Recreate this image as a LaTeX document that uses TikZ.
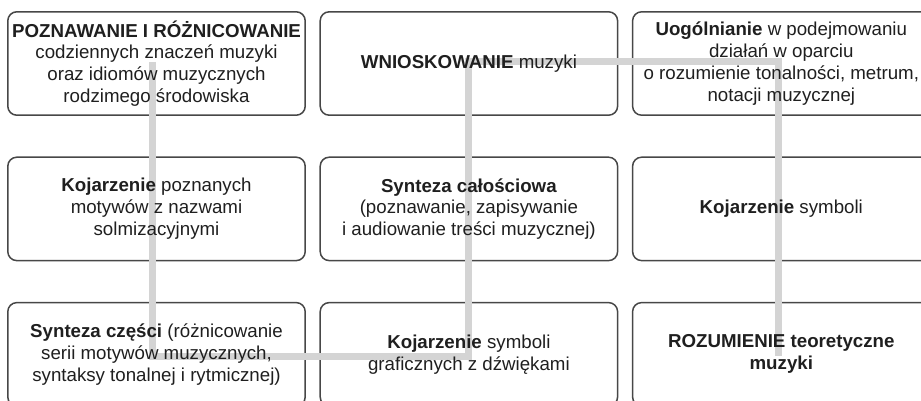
\documentclass[tikz,border=0pt]{standalone}
\usepackage{fontspec}
\setmainfont{Liberation Sans}
\usetikzlibrary{positioning,backgrounds}

\begin{document}
\begin{tikzpicture}[x=1pt, y=-1pt, node distance=42pt and 15pt,
  stage/.style={minimum width=297pt, minimum height=103pt, align=center, inner sep=0pt,
    text=black!88, font=\fontsize{18.7}{21.8}\selectfont},
  frame/.style={draw=black!72, line width=1.5pt, rounded corners=9pt, fill=white},
  route/.style={draw=black!17, line width=7pt}]
  \useasboundingbox (0,0) rectangle (921,401);
  \node[stage] (a) at (156.5,63.5) {\textbf{POZNAWANIE I RÓŻNICOWANIE}\\codziennych znaczeń muzyki\\oraz idiomów muzycznych\\rodzimego środowiska};
  \node[stage, right=of a] (b) {\textbf{WNIOSKOWANIE} muzyki};
  \node[stage, right=of b] (c) {\textbf{Uogólnianie} w podejmowaniu\\działań w oparciu\\o rozumienie tonalności, metrum,\\notacji muzycznej};
  \node[stage, below=of a] (d) {\textbf{Kojarzenie} poznanych\\motywów z nazwami\\solmizacyjnymi};
  \node[stage, right=of d] (e) {\textbf{Synteza całościowa}\\(poznawanie, zapisywanie\\i audiowanie treści muzycznej)};
  \node[stage, right=of e] (f) {\textbf{Kojarzenie} symboli};
  \node[stage, below=of d] (g) {\textbf{Synteza części} (różnicowanie\\serii motywów muzycznych,\\syntaksy tonalnej i rytmicznej)};
  \node[stage, right=of g] (h) {\textbf{Kojarzenie} symboli\\graficznych z dźwiękami};
  \node[stage, right=of h] (i) {\textbf{ROZUMIENIE teoretyczne}\\\textbf{muzyki}};
  \coordinate (s) at ([xshift=-4pt, yshift=1.5pt]a.center);
  \coordinate (t) at ([xshift=-2.5pt, yshift=-1.5pt]i.center);
  \begin{scope}[on background layer]
    \foreach \n in {a,b,c,d,e,f,g,h,i}
      \draw[frame] (\n.north west) rectangle (\n.south east);
    \draw[route] (s) -- ([yshift=-2.5pt]s |- g.center) -| ([yshift=1.5pt]h.center |- a.center) -| (t);
  \end{scope}
\end{tikzpicture}
\end{document}
